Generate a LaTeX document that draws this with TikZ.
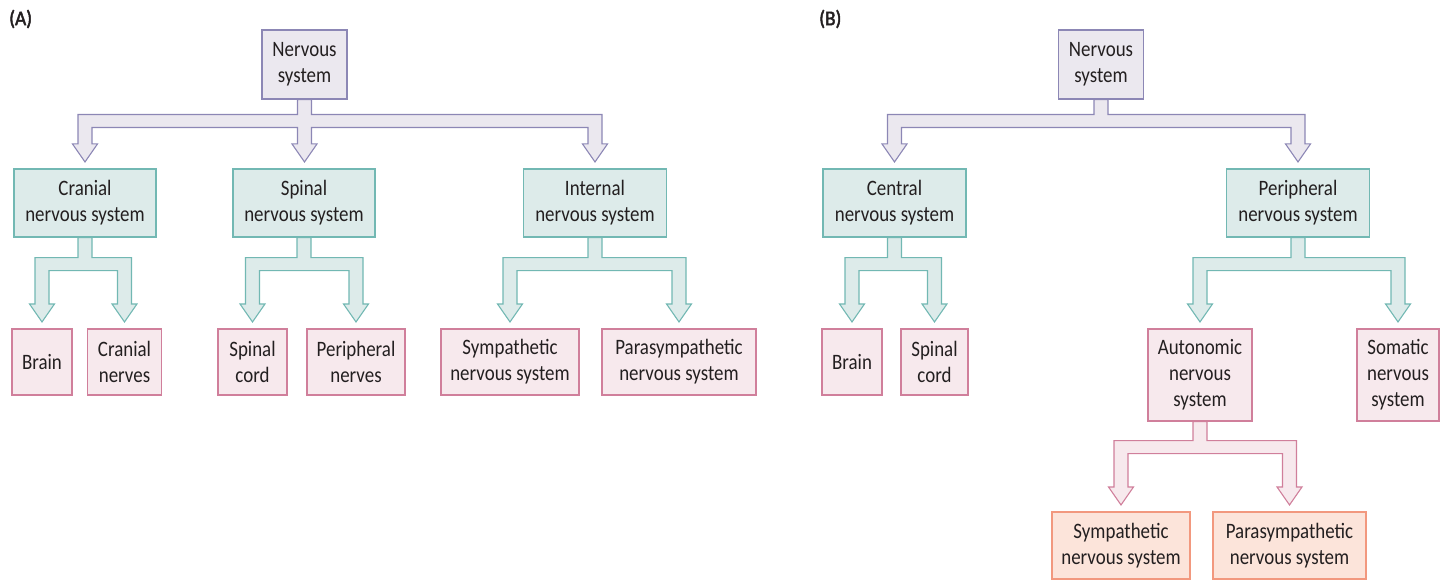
\documentclass[tikz,border=0pt]{standalone}
\usepackage{fontspec}
\setmainfont{Carlito}[FakeStretch=0.86]
\newfontfamily\labelfont{Carlito}[FakeStretch=0.92, FakeBold=2.2]
\usetikzlibrary{calc}
\definecolor{lavF}{HTML}{EBE8EF}
\definecolor{lavD}{HTML}{8C87B5}
\definecolor{tealF}{HTML}{DDEBEA}
\definecolor{tealD}{HTML}{72B8B3}
\definecolor{pinkF}{HTML}{F7E9ED}
\definecolor{pinkD}{HTML}{D07F9B}
\definecolor{oraF}{HTML}{FCE4DA}
\definecolor{oraD}{HTML}{F2987E}
\definecolor{txt}{HTML}{231F20}
\tikzset{
  box/.style={draw, line width=1.1pt, inner sep=0pt, align=center, text=txt,
    font=\fontsize{22}{26}\selectfont},
  lavbox/.style={box, draw=lavD, fill=lavF},
  tealbox/.style={box, draw=tealD, fill=tealF},
  pinkbox/.style={box, draw=pinkD, fill=pinkF},
  orabox/.style={box, draw=oraD, fill=oraF},
  fork/.style={line width=1.1pt, line join=miter},
  lavfork/.style={fork, draw=lavD, fill=lavF},
  tealfork/.style={fork, draw=tealD, fill=tealF},
  pinkfork/.style={fork, draw=pinkD, fill=pinkF},
  panel/.style={inner sep=0pt, anchor=west, text=txt, font=\labelfont\fontsize{21}{24}\selectfont},
}
% two-branch fork: #1 style, #2 parent, #3 left child, #4 right child, #5 drop to bar
\newcommand\forkII[5]{%
  \draw[#1] let \p0=(#2.south), \p1=(#3.north), \p2=(#4.north) in
  (\x0-7pt,\y0) -- (\x0-7pt,\y0-#5pt) -- (\x1-7pt,\y0-#5pt)
  -- (\x1-7pt,\y1+24.5pt) -- (\x1-12.5pt,\y1+24.5pt) -- (\x1,\y1+6.5pt)
  -- (\x1+12.5pt,\y1+24.5pt) -- (\x1+7pt,\y1+24.5pt)
  -- (\x1+7pt,\y0-#5pt-13pt) -- (\x2-7pt,\y0-#5pt-13pt)
  -- (\x2-7pt,\y1+24.5pt) -- (\x2-12.5pt,\y1+24.5pt) -- (\x2,\y1+6.5pt)
  -- (\x2+12.5pt,\y1+24.5pt) -- (\x2+7pt,\y1+24.5pt)
  -- (\x2+7pt,\y0-#5pt) -- (\x0+7pt,\y0-#5pt) -- (\x0+7pt,\y0) -- cycle;}
% three-branch fork, middle branch under the parent
\newcommand\forkIII[6]{%
  \draw[#1] let \p0=(#2.south), \p1=(#3.north), \p2=(#4.north), \p3=(#5.north) in
  (\x0-7pt,\y0) -- (\x0-7pt,\y0-#6pt) -- (\x1-7pt,\y0-#6pt)
  -- (\x1-7pt,\y1+24.5pt) -- (\x1-12.5pt,\y1+24.5pt) -- (\x1,\y1+6.5pt)
  -- (\x1+12.5pt,\y1+24.5pt) -- (\x1+7pt,\y1+24.5pt)
  -- (\x1+7pt,\y0-#6pt-13pt) -- (\x0-7pt,\y0-#6pt-13pt)
  -- (\x0-7pt,\y2+24.5pt) -- (\x0-12.5pt,\y2+24.5pt) -- (\x0,\y2+6.5pt)
  -- (\x0+12.5pt,\y2+24.5pt) -- (\x0+7pt,\y2+24.5pt)
  -- (\x0+7pt,\y0-#6pt-13pt) -- (\x3-7pt,\y0-#6pt-13pt)
  -- (\x3-7pt,\y3+24.5pt) -- (\x3-12.5pt,\y3+24.5pt) -- (\x3,\y3+6.5pt)
  -- (\x3+12.5pt,\y3+24.5pt) -- (\x3+7pt,\y3+24.5pt)
  -- (\x3+7pt,\y0-#6pt) -- (\x0+7pt,\y0-#6pt) -- (\x0+7pt,\y0) -- cycle;}
\begin{document}
\begin{tikzpicture}[x=1pt,y=-1pt]
\useasboundingbox (0,0) rectangle (1440,580);
% ---------- (A) ----------
\node[panel] (lA) at (9,19) {(A)};
\node[lavbox, minimum width=85, minimum height=69] (nsA) at (304.5,64.5) {Nervous\\system};
\node[tealbox, minimum width=142, minimum height=68] (cran) at (85,203) {Cranial\\nervous system};
\node[tealbox, minimum width=142, minimum height=68] (spin) at (304,203) {Spinal\\nervous system};
\node[tealbox, minimum width=143, minimum height=68] (intl) at (595,203) {Internal\\nervous system};
\node[pinkbox, minimum width=60, minimum height=66] (brainA) at (42,362) {Brain};
\node[pinkbox, minimum width=74, minimum height=66] (cnerv) at (124.5,362) {Cranial\\nerves};
\node[pinkbox, minimum width=69, minimum height=66] (scordA) at (252.5,362) {Spinal\\cord};
\node[pinkbox, minimum width=98, minimum height=66] (pnerv) at (356,362) {Peripheral\\nerves};
\node[pinkbox, minimum width=138, minimum height=66] (symA) at (510,362) {Sympathetic\\nervous system};
\node[pinkbox, minimum width=154, minimum height=66] (paraA) at (679,362) {Parasympathetic\\nervous system};
\forkIII{lavfork}{nsA}{cran}{spin}{intl}{15}
\forkII{tealfork}{cran}{brainA}{cnerv}{20}
\forkII{tealfork}{spin}{scordA}{pnerv}{20}
\forkII{tealfork}{intl}{symA}{paraA}{20}
% ---------- (B) ----------
\node[panel] (lB) at (819,19) {(B)};
\node[lavbox, minimum width=85, minimum height=69] (nsB) at (1101,64.5) {Nervous\\system};
\node[tealbox, minimum width=143, minimum height=68] (cent) at (894.5,203) {Central\\nervous system};
\node[tealbox, minimum width=143, minimum height=68] (peri) at (1298,203) {Peripheral\\nervous system};
\node[pinkbox, minimum width=60, minimum height=66] (brainB) at (852,362) {Brain};
\node[pinkbox, minimum width=67, minimum height=66] (scordB) at (934.5,362) {Spinal\\cord};
\node[pinkbox, minimum width=104, minimum height=92] (auto) at (1200,375) {Autonomic\\nervous\\system};
\node[pinkbox, minimum width=82, minimum height=92] (soma) at (1398,375) {Somatic\\nervous\\system};
\node[orabox, minimum width=138, minimum height=67] (symB) at (1121,545.5) {Sympathetic\\nervous system};
\node[orabox, minimum width=153, minimum height=67] (paraB) at (1289.5,545.5) {Parasympathetic\\nervous system};
\forkII{lavfork}{nsB}{cent}{peri}{15}
\forkII{tealfork}{cent}{brainB}{scordB}{20}
\forkII{tealfork}{peri}{auto}{soma}{20}
\forkII{pinkfork}{auto}{symB}{paraB}{19}
\end{tikzpicture}
\end{document}
